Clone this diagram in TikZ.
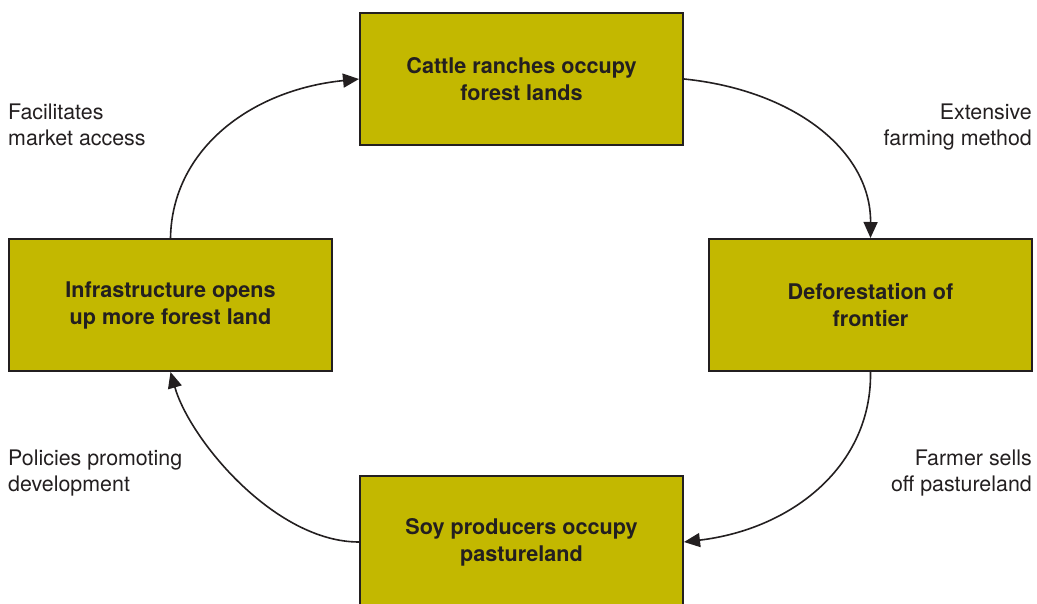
\documentclass[tikz,border=0pt]{standalone}
\usepackage{fontspec}
\setmainfont{TeX Gyre Heros}
\usetikzlibrary{arrows.meta}
\definecolor{boxfill}{HTML}{C3B800}
\definecolor{ink}{HTML}{231F20}
\tikzset{
  stagebox/.style={draw=ink, line width=2pt, fill=boxfill, minimum width=323pt, minimum height=132pt,
    inner sep=0pt, align=center, text=ink, font=\fontsize{21.6}{27}\selectfont\bfseries},
  cyclearrow/.style={draw=ink, line width=1.6pt, -{Triangle[length=16pt,width=14pt]}},
  sidelabel/.style={inner sep=0pt, text=ink, font=\fontsize{21.4}{26}\selectfont}
}
\begin{document}
\begin{tikzpicture}[x=1pt,y=-1pt]
\useasboundingbox[fill=white] (0,0) rectangle (1037,604);
\node[stagebox] (top) at (521.5,79) {Cattle ranches occupy\\forest lands};
\node[stagebox] (right) at (870.5,305) {Deforestation of\\frontier};
\node[stagebox] (bot) at (521.5,542) {Soy producers occupy\\pastureland};
\node[stagebox] (left) at (170.5,305) {Infrastructure opens\\up more forest land};

\draw[cyclearrow] (left.north) .. controls (172,150) and (250,90) .. (top.west);
\draw[cyclearrow] (top.east) .. controls (793,90) and (871,150) .. (right.north);
\draw[cyclearrow] (right.south) .. controls (872,465) and (793,529) .. (bot.east);
\draw[cyclearrow] (bot.west) .. controls (275,542) and (190,440) .. (left.south);

\node[sidelabel, anchor=north west, align=left] (l1) at (8,104) {Facilitates\\market access};
\node[sidelabel, anchor=north east, align=right] (l2) at (1032,104) {Extensive\\farming method};
\node[sidelabel, anchor=north west, align=left] (l3) at (8,450) {Policies promoting\\development};
\node[sidelabel, anchor=north east, align=right] (l4) at (1032,450) {Farmer sells\\off pastureland};
\end{tikzpicture}
\end{document}
